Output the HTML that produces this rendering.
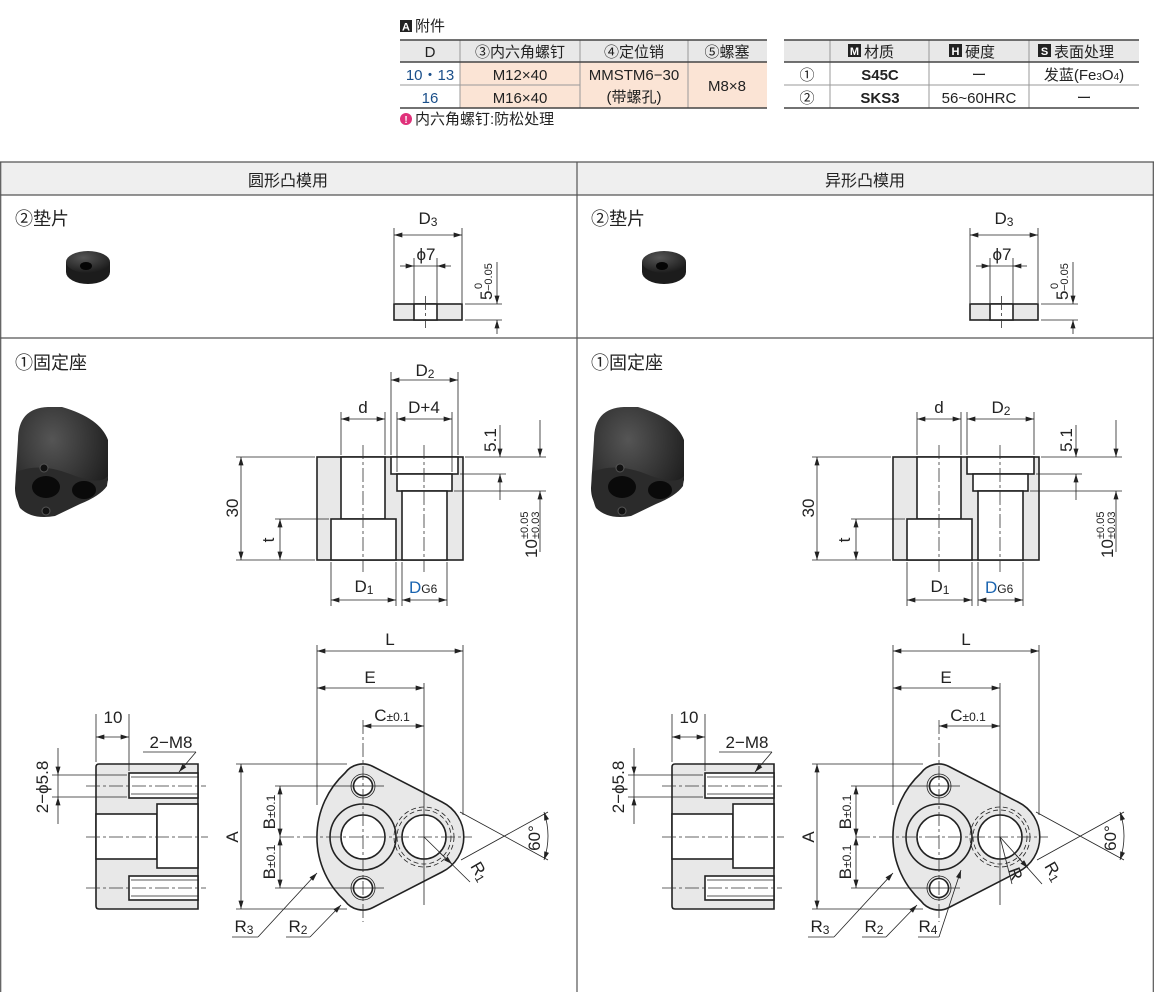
<!DOCTYPE html>
<html><head><meta charset="utf-8"><style>
html,body{margin:0;padding:0;background:#fff}
svg{display:block;font-family:"Liberation Sans","Noto Sans CJK SC",sans-serif}
.o{stroke:#222;stroke-width:1.6;fill:none}
.t{stroke:#222;stroke-width:0.8;fill:none}
.c{stroke:#333;stroke-width:0.8;fill:none;stroke-dasharray:14 3 3 3}
.d{stroke:#222;stroke-width:0.8;fill:none;marker-end:url(#ar)}
.dd{stroke:#222;stroke-width:0.8;fill:none;marker-end:url(#ar);marker-start:url(#ar)}
.g{fill:#e8e8e8}
.w{fill:#fff}
text{fill:#222}
</style></head><body>
<svg width="1154" height="992" viewBox="0 0 1154 992" xmlns="http://www.w3.org/2000/svg">
<defs>
<marker id="ar" viewBox="0 0 10 6" refX="10" refY="3" markerWidth="9" markerHeight="5" orient="auto-start-reverse" markerUnits="userSpaceOnUse"><path d="M0,0 L10,3 L0,6z" fill="#222"/></marker>
<radialGradient id="ph" cx="40%" cy="30%" r="80%"><stop offset="0" stop-color="#555"/><stop offset="1" stop-color="#151515"/></radialGradient>

<g id="wph">
<path d="M66 262 L66 272 A22 12 0 0 0 110 272 L110 262 Z" fill="#1c1c1c"/>
<ellipse cx="88" cy="262" rx="22" ry="11" fill="url(#ph)"/>
<ellipse cx="86" cy="266" rx="6" ry="4" fill="#050505"/>
</g>
<g id="bph">
<path d="M18 440 Q18 408 48 407 L62 407 Q100 418 108 440 L108 480 Q106 492 90 498 L55 514 Q35 520 22 508 Q15 500 15 488 Z" fill="url(#ph)"/>
<path d="M16 472 Q40 462 70 474 Q100 486 108 476 L107 486 Q100 496 80 504 L55 516 Q32 520 20 508 Q15 498 16 472Z" fill="#2b2b2b"/>
<ellipse cx="46" cy="487" rx="14" ry="11" fill="#0a0a0a"/>
<ellipse cx="84" cy="490" rx="12" ry="9" fill="#0a0a0a"/>
<circle cx="44" cy="468" r="4" fill="#111" stroke="#555"/>
<circle cx="46" cy="511" r="4" fill="#111" stroke="#555"/>
</g>

<g id="wdr">
<rect x="394" y="304" width="68" height="16" class="g o"/>
<rect x="414" y="304" width="23" height="16" class="w o"/>
<line x1="425.5" y1="296" x2="425.5" y2="328" class="c"/>
<line x1="394" y1="228" x2="394" y2="303" class="t"/>
<line x1="462" y1="228" x2="462" y2="303" class="t"/>
<line x1="394" y1="235" x2="462" y2="235" class="dd"/>
<text x="428" y="224" font-size="17" text-anchor="middle">D<tspan font-size="12" dy="2">3</tspan></text>
<line x1="414" y1="258" x2="414" y2="303" class="t"/>
<line x1="437" y1="258" x2="437" y2="303" class="t"/>
<line x1="400" y1="266" x2="414" y2="266" class="d"/>
<line x1="451" y1="266" x2="437" y2="266" class="d"/>
<line x1="414" y1="266" x2="437" y2="266" class="t"/>
<text x="426" y="260" font-size="17" text-anchor="middle">ϕ7</text>
<line x1="465" y1="304" x2="502" y2="304" class="t"/>
<line x1="465" y1="320" x2="502" y2="320" class="t"/>
<line x1="497" y1="262" x2="497" y2="304" class="d"/>
<line x1="497" y1="334" x2="497" y2="320" class="d"/>
<g transform="translate(492,300) rotate(-90)"><text x="0" y="0" font-size="17">5</text><text x="11" y="-10" font-size="11">0</text><text x="9" y="0" font-size="11">−0.05</text></g>
</g>

<g id="sec">
<rect x="317" y="457" width="146" height="103" class="g o"/>
<rect x="341" y="457" width="44" height="62" class="w o"/>
<rect x="331" y="519" width="65" height="41" class="w o"/>
<rect x="391" y="457" width="67" height="17" class="w o"/>
<rect x="397" y="474" width="55" height="17" class="w o"/>
<rect x="402" y="491" width="45" height="69" class="w o"/>
<line x1="363" y1="445" x2="363" y2="572" class="c"/>
<line x1="424" y1="445" x2="424" y2="572" class="c"/>
<line x1="236" y1="457" x2="315" y2="457" class="t"/>
<line x1="236" y1="560" x2="315" y2="560" class="t"/>
<line x1="241" y1="457" x2="241" y2="560" class="dd"/>
<text transform="translate(238,508) rotate(-90)" font-size="17" text-anchor="middle">30</text>
<line x1="275" y1="519" x2="329" y2="519" class="t"/>
<line x1="280" y1="519" x2="280" y2="560" class="dd"/>
<text transform="translate(274,540) rotate(-90)" font-size="17" text-anchor="middle">t</text>
<line x1="465" y1="457" x2="546" y2="457" class="t"/>
<line x1="460" y1="474" x2="506" y2="474" class="t"/>
<line x1="454" y1="491" x2="546" y2="491" class="t"/>
<line x1="500" y1="425" x2="500" y2="457" class="d"/>
<line x1="500" y1="500" x2="500" y2="474" class="d"/>
<text transform="translate(496,440) rotate(-90)" font-size="17" text-anchor="middle">5.1</text>
<line x1="540" y1="420" x2="540" y2="457" class="d"/>
<line x1="540" y1="552" x2="540" y2="491" class="d"/>
<g transform="translate(537,558) rotate(-90)"><text x="0" y="0" font-size="17">10</text><text x="19" y="-9" font-size="11">±0.05</text><text x="19" y="2" font-size="11">±0.03</text></g>
<line x1="331" y1="562" x2="331" y2="606" class="t"/>
<line x1="396" y1="562" x2="396" y2="606" class="t"/>
<line x1="331" y1="600" x2="396" y2="600" class="dd"/>
<text x="364" y="592" font-size="17" text-anchor="middle">D<tspan font-size="12" dy="2">1</tspan></text>
<line x1="402" y1="562" x2="402" y2="606" class="t"/>
<line x1="447" y1="562" x2="447" y2="606" class="t"/>
<line x1="402" y1="600" x2="447" y2="600" class="dd"/>
<text x="409" y="593" font-size="17"><tspan fill="#1a64b0">D</tspan><tspan font-size="12">G6</tspan></text>
<line x1="341" y1="412" x2="341" y2="455" class="t"/>
<line x1="385" y1="412" x2="385" y2="455" class="t"/>
<line x1="341" y1="419" x2="385" y2="419" class="dd"/>
<text x="363" y="413" font-size="17" text-anchor="middle">d</text>
</g>

<g id="side">
<path d="M99 764 L198 764 L198 909 L99 909 Q96 909 96 906 L96 767 Q96 764 99 764 Z" class="g o"/>
<rect x="129" y="773" width="69" height="25" class="w o"/>
<rect x="129" y="876" width="69" height="24" class="w o"/>
<line x1="131" y1="777" x2="198" y2="777" class="t"/><line x1="131" y1="794" x2="198" y2="794" class="t"/>
<line x1="131" y1="880" x2="198" y2="880" class="t"/><line x1="131" y1="896" x2="198" y2="896" class="t"/>
<rect x="96" y="814" width="61" height="45" class="w o"/>
<rect x="157" y="804" width="41" height="64" class="w o"/>
<line x1="86" y1="786" x2="206" y2="786" class="c"/>
<line x1="86" y1="888" x2="206" y2="888" class="c"/>
<line x1="86" y1="837" x2="208" y2="837" class="c"/>
<line x1="96" y1="714" x2="96" y2="762" class="t"/>
<line x1="129" y1="714" x2="129" y2="771" class="t"/>
<line x1="96" y1="737" x2="129" y2="737" class="dd"/>
<text x="113" y="723" font-size="17" text-anchor="middle">10</text>
<text x="171" y="748" font-size="17" text-anchor="middle">2−M8</text>
<polyline points="143,752 196,752" class="t"/>
<line x1="196" y1="752" x2="179" y2="772" class="d"/>
<line x1="52" y1="775" x2="127" y2="775" class="t"/>
<line x1="52" y1="797" x2="127" y2="797" class="t"/>
<line x1="58" y1="748" x2="58" y2="775" class="d"/>
<line x1="58" y1="824" x2="58" y2="797" class="d"/>
<line x1="58" y1="775" x2="58" y2="797" class="t"/>
<text transform="translate(48,787) rotate(-90)" font-size="17" text-anchor="middle">2−ϕ5.8</text>
</g>

<g id="plate">
<path d="M345 773 A22 22 0 0 1 373 766.5 L442 802 A39 39 0 0 1 442 872 L373 907.5 A22 22 0 0 1 345 901 A87 87 0 0 1 345 773 Z" class="g o"/>
<circle cx="363" cy="837" r="33" class="o"/>
<circle cx="363" cy="837" r="22" class="w o"/>
<circle cx="424" cy="837" r="22" class="w o"/>
<circle cx="424" cy="837" r="27" class="t" stroke-dasharray="5 3"/>
<circle cx="424" cy="837" r="30" class="t" stroke-dasharray="5 3"/>
<circle cx="363" cy="786" r="12" class="t" stroke-width="1.2"/>
<circle cx="363" cy="786" r="9.5" class="w o"/>
<circle cx="363" cy="888" r="12" class="t" stroke-width="1.2"/>
<circle cx="363" cy="888" r="9.5" class="w o"/>
<line x1="363" y1="720" x2="363" y2="922" class="c"/>
<line x1="280" y1="837" x2="472" y2="837" class="c"/>
<line x1="275" y1="786" x2="384" y2="786" class="t"/>
<line x1="275" y1="888" x2="384" y2="888" class="t"/>
<line x1="236" y1="764" x2="347" y2="764" class="t"/>
<line x1="236" y1="909" x2="347" y2="909" class="t"/>
<line x1="241" y1="764" x2="241" y2="909" class="dd"/>
<text transform="translate(238,837) rotate(-90)" font-size="17" text-anchor="middle">A</text>
<line x1="280" y1="786" x2="280" y2="837" class="dd"/>
<line x1="280" y1="837" x2="280" y2="888" class="dd"/>
<text transform="translate(275,812) rotate(-90)" font-size="17" text-anchor="middle">B<tspan font-size="12">±0.1</tspan></text>
<text transform="translate(275,862) rotate(-90)" font-size="17" text-anchor="middle">B<tspan font-size="12">±0.1</tspan></text>
<line x1="317" y1="645" x2="317" y2="805" class="t"/>
<line x1="463" y1="645" x2="463" y2="815" class="t"/>
<line x1="424" y1="683" x2="424" y2="905" class="t"/>
<line x1="317" y1="651" x2="463" y2="651" class="dd"/>
<text x="390" y="645" font-size="17" text-anchor="middle">L</text>
<line x1="317" y1="688" x2="424" y2="688" class="dd"/>
<text x="370" y="683" font-size="17" text-anchor="middle">E</text>
<line x1="363" y1="726" x2="424" y2="726" class="dd"/>
<text x="392" y="721" font-size="17" text-anchor="middle">C<tspan font-size="12">±0.1</tspan></text>
<line x1="460" y1="812" x2="548" y2="860" class="t"/>
<line x1="461" y1="860" x2="548" y2="812" class="t"/>
<path d="M544 812 Q552 836 544 860" class="dd"/>
<text transform="translate(540,838) rotate(-90)" font-size="17" text-anchor="middle">60°</text>
<line x1="317" y1="873" x2="258" y2="937" class="t" marker-start="url(#ar)"/>
<line x1="258" y1="937" x2="232" y2="937" class="t"/>
<text x="244" y="932" font-size="17" text-anchor="middle">R<tspan font-size="12" dy="2">3</tspan></text>
<line x1="341" y1="905" x2="310" y2="937" class="t" marker-start="url(#ar)"/>
<line x1="310" y1="937" x2="286" y2="937" class="t"/>
<text x="298" y="932" font-size="17" text-anchor="middle">R<tspan font-size="12" dy="2">2</tspan></text>
</g>
</defs>

<rect x="400" y="20" width="12" height="12" fill="#222"/><text x="406" y="30.5" font-size="11" font-weight="bold" style="fill:#fff" text-anchor="middle">A</text>
<text x="415" y="31" font-size="15">附件</text>
<rect x="400" y="40" width="367" height="22" fill="#e8e8e8"/>
<rect x="460" y="62" width="307" height="46" fill="#fbe4d5"/>
<g stroke="#999" stroke-width="1">
<line x1="460" y1="40" x2="460" y2="108"/><line x1="580" y1="40" x2="580" y2="108"/><line x1="688" y1="40" x2="688" y2="108"/>
<line x1="400" y1="85" x2="580" y2="85"/>
</g>
<g stroke="#444" stroke-width="1.5"><line x1="400" y1="40" x2="767" y2="40"/><line x1="400" y1="62" x2="767" y2="62"/><line x1="400" y1="108" x2="767" y2="108"/></g>
<g font-size="15" text-anchor="middle">
<text x="430" y="57">D</text><text x="520" y="57">③内六角螺钉</text><text x="634" y="57">④定位销</text><text x="727" y="57">⑤螺塞</text>
<text x="430" y="80" style="fill:#1a4f8a">10・13</text><text x="430" y="103" style="fill:#1a4f8a">16</text>
<text x="520" y="80">M12×40</text><text x="520" y="103">M16×40</text>
<text x="634" y="80">MMSTM6−30</text><text x="634" y="102">(带螺孔)</text><text x="727" y="91">M8×8</text>
</g>
<circle cx="406" cy="119" r="6" fill="#e0307a"/><text x="406" y="123" font-size="10" font-weight="bold" text-anchor="middle" style="fill:#fff">!</text>
<text x="415" y="124" font-size="15">内六角螺钉:防松处理</text>

<rect x="784" y="40" width="355" height="22" fill="#e8e8e8"/>
<g stroke="#999" stroke-width="1">
<line x1="830" y1="40" x2="830" y2="108"/><line x1="929" y1="40" x2="929" y2="108"/><line x1="1029" y1="40" x2="1029" y2="108"/>
<line x1="784" y1="85" x2="1139" y2="85"/>
</g>
<g stroke="#444" stroke-width="1.5"><line x1="784" y1="40" x2="1139" y2="40"/><line x1="784" y1="62" x2="1139" y2="62"/><line x1="784" y1="108" x2="1139" y2="108"/></g>
<rect x="848" y="44" width="13" height="13" fill="#222"/><text x="854.5" y="55" font-size="11" font-weight="bold" text-anchor="middle" style="fill:#fff">M</text>
<rect x="949" y="44" width="13" height="13" fill="#222"/><text x="955.5" y="55" font-size="11" font-weight="bold" text-anchor="middle" style="fill:#fff">H</text>
<rect x="1038" y="44" width="13" height="13" fill="#222"/><text x="1044.5" y="55" font-size="11" font-weight="bold" text-anchor="middle" style="fill:#fff">S</text>
<g font-size="15">
<text x="864" y="57">材质</text><text x="965" y="57">硬度</text><text x="1054" y="57">表面处理</text>
</g>
<g font-size="15" text-anchor="middle">
<text x="807" y="80">①</text><text x="807" y="103">②</text>
<text x="880" y="80" font-weight="bold">S45C</text><text x="880" y="103" font-weight="bold">SKS3</text>
<text x="979" y="80">ー</text><text x="979" y="103">56~60HRC</text>
<text x="1084" y="80">发蓝(Fe<tspan font-size="10">3</tspan>O<tspan font-size="10">4</tspan>)</text><text x="1084" y="103">ー</text>
</g>

<rect x="0" y="162" width="1154" height="33" fill="#efefef"/>
<g stroke="#555" stroke-width="1.2">
<line x1="0" y1="162" x2="1154" y2="162"/><line x1="0" y1="195" x2="1154" y2="195"/><line x1="0" y1="338" x2="1154" y2="338"/>
<line x1="577" y1="162" x2="577" y2="992"/><line x1="0.7" y1="162" x2="0.7" y2="992"/><line x1="1153.3" y1="162" x2="1153.3" y2="992"/>
</g>
<text x="288" y="186" font-size="16" text-anchor="middle">圆形凸模用</text>
<text x="865" y="186" font-size="16" text-anchor="middle">异形凸模用</text>
<text x="15" y="225" font-size="18">②垫片</text>
<text x="591" y="225" font-size="18">②垫片</text>
<text x="15" y="369" font-size="18">①固定座</text>
<text x="591" y="369" font-size="18">①固定座</text>

<use href="#wph"/><use href="#bph"/><use href="#wdr"/><use href="#sec"/><use href="#side"/><use href="#plate"/>
<g>
<line x1="397" y1="412" x2="397" y2="472" class="t"/>
<line x1="452" y1="412" x2="452" y2="472" class="t"/>
<line x1="397" y1="419" x2="452" y2="419" class="dd"/>
<text x="424" y="413" font-size="17" text-anchor="middle">D+4</text>
<line x1="391" y1="372" x2="391" y2="455" class="t"/>
<line x1="458" y1="372" x2="458" y2="455" class="t"/>
<line x1="391" y1="380" x2="458" y2="380" class="dd"/>
<text x="425" y="376" font-size="17" text-anchor="middle">D<tspan font-size="12" dy="2">2</tspan></text>
<line x1="424" y1="837" x2="470" y2="882" class="t"/>
<line x1="440" y1="853" x2="452" y2="864" class="d"/>
<text transform="translate(470,866) rotate(60)" font-size="17">R<tspan font-size="12" dy="2">1</tspan></text>
</g>

<g transform="translate(576,0)">
<use href="#wph"/><use href="#bph"/><use href="#wdr"/><use href="#sec"/><use href="#side"/><use href="#plate"/>
<line x1="391" y1="412" x2="391" y2="455" class="t"/>
<line x1="458" y1="412" x2="458" y2="455" class="t"/>
<line x1="391" y1="419" x2="458" y2="419" class="dd"/>
<text x="425" y="413" font-size="17" text-anchor="middle">D<tspan font-size="12" dy="2">2</tspan></text>
<line x1="424" y1="837" x2="466" y2="884" class="t"/>
<line x1="440" y1="855" x2="452" y2="868" class="d"/>
<text transform="translate(468,866) rotate(60)" font-size="17">R<tspan font-size="12" dy="2">1</tspan></text>
<line x1="424" y1="837" x2="436" y2="884" class="t"/>
<text transform="translate(432,870) rotate(70)" font-size="17">R</text>
<line x1="385" y1="870" x2="363" y2="937" class="t" marker-start="url(#ar)"/>
<line x1="363" y1="937" x2="342" y2="937" class="t"/>
<text x="352" y="932" font-size="17" text-anchor="middle">R<tspan font-size="12" dy="2">4</tspan></text>
</g>
</svg>
</body></html>
